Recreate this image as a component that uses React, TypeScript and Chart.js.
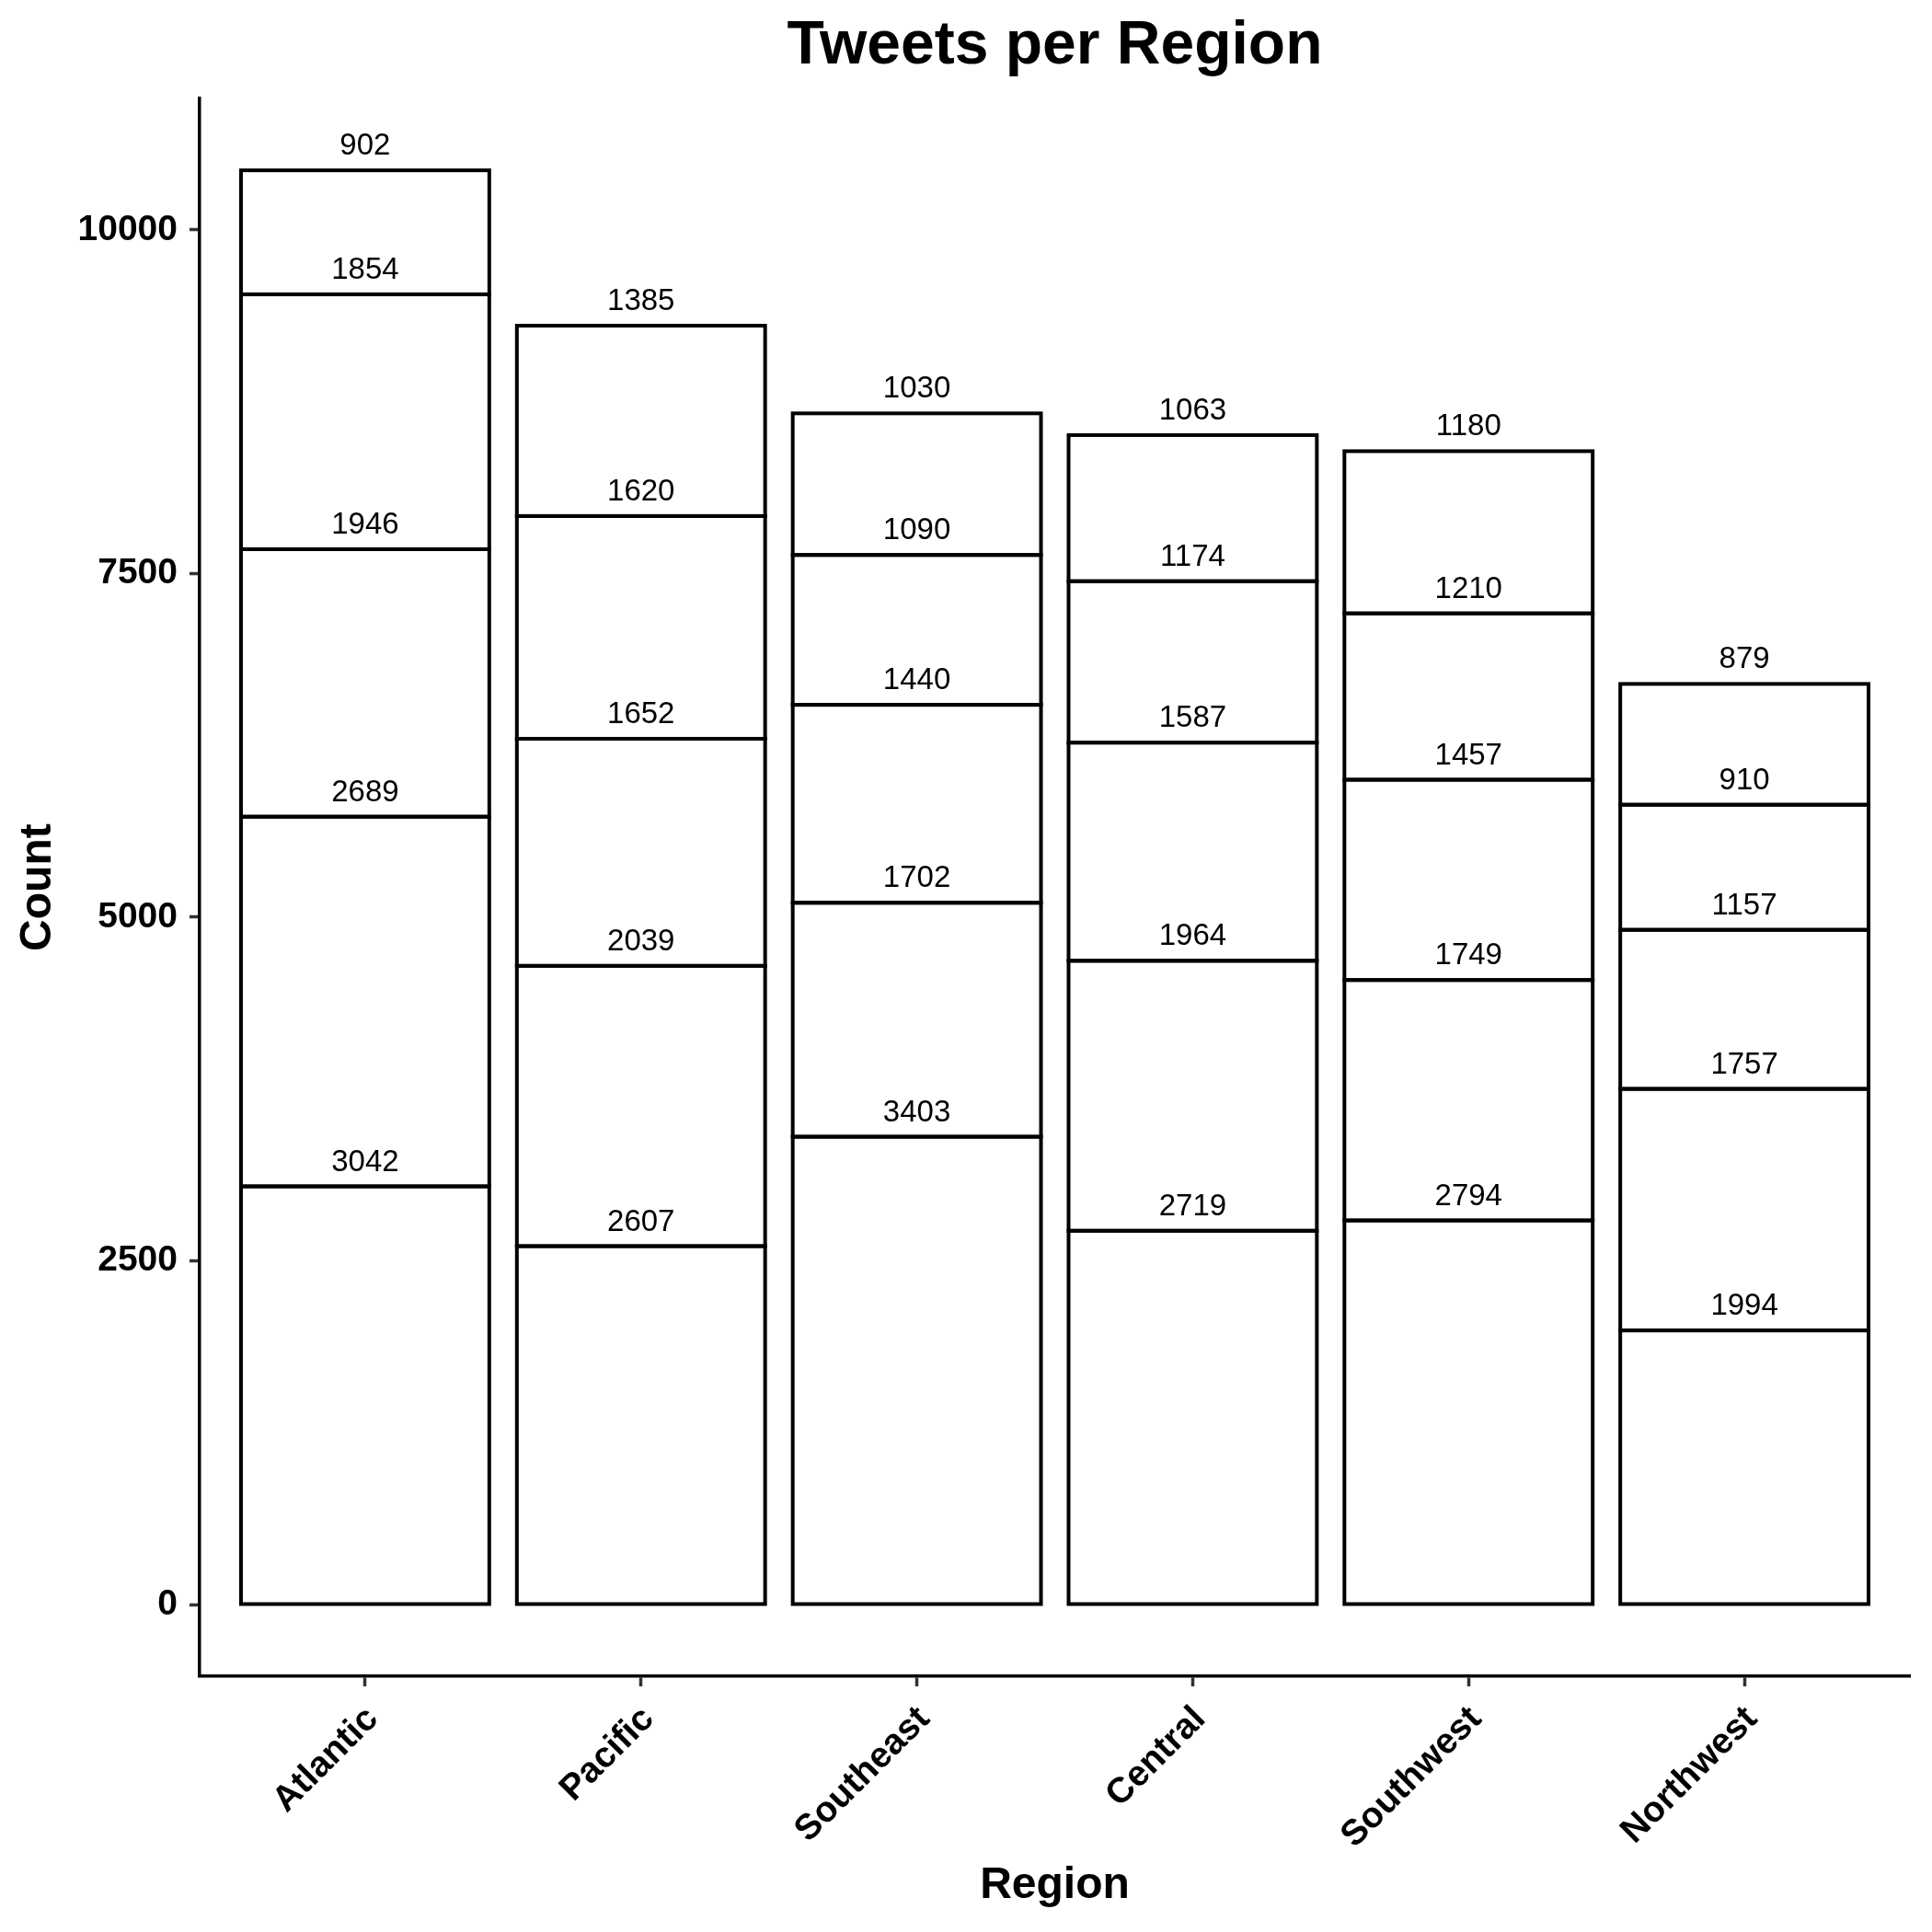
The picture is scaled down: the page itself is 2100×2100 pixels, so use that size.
import { useEffect, useRef } from "react";
import { Chart, registerables } from "chart.js";

Chart.register(...registerables);

const regions = ["Atlantic", "Pacific", "Southeast", "Central", "Southwest", "Northwest"];
// stacked segments, bottom to top
const layer1 = [3042, 2607, 3403, 2719, 2794, 1994];
const layer2 = [2689, 2039, 1702, 1964, 1749, 1757];
const layer3 = [1946, 1652, 1440, 1587, 1457, 1157];
const layer4 = [1854, 1620, 1090, 1174, 1210, 910];
const layer5 = [902, 1385, 1030, 1063, 1180, 879];
const yTicks = [0, 2500, 5000, 7500, 10000];

const chartTitle = "Tweets per Region";
const xTitle = "Region";
const yTitle = "Count";

const FONT = '"Liberation Sans", Arial, Helvetica, sans-serif';

export default function App() {
  const ref = useRef<HTMLCanvasElement>(null);

  useEffect(() => {
    document.body.style.margin = "0";
    const layers = [layer1, layer2, layer3, layer4, layer5];
    const totals = regions.map((_, i) => layers.reduce((s, l) => s + l[i], 0));
    const maxTotal = Math.max(...totals);
    const yMin = -0.05 * maxTotal;
    const yMax = maxTotal * 1.05;

    const outlinePlugin = {
      id: "outlineAndLabels",
      afterDatasetsDraw(chart: any) {
        const ctx = chart.ctx as CanvasRenderingContext2D;
        ctx.save();
        ctx.lineWidth = 4;
        ctx.strokeStyle = "#000";
        chart.data.datasets.forEach((_ds: any, di: number) => {
          const meta = chart.getDatasetMeta(di);
          meta.data.forEach((el: any) => {
            const { x, y, base, width } = el.getProps(["x", "y", "base", "width"], true);
            ctx.strokeRect(x - width / 2, y, width, base - y);
          });
        });
        ctx.fillStyle = "#000";
        ctx.font = `33px ${FONT}`;
        ctx.textAlign = "center";
        ctx.textBaseline = "alphabetic";
        chart.data.datasets.forEach((_ds: any, di: number) => {
          const meta = chart.getDatasetMeta(di);
          meta.data.forEach((el: any, i: number) => {
            const { x, y } = el.getProps(["x", "y"], true);
            ctx.fillText(String(layers[di][i]), x, y - 17);
          });
        });
        ctx.restore();
      },
    };

    const gridCfg = {
      display: true,
      drawOnChartArea: false,
      drawTicks: true,
      tickLength: 11,
      tickWidth: 3.5,
      tickColor: "#333333",
      offset: false,
    };
    const borderCfg = { display: true, color: "#000", width: 3.5 };

    const chart = new Chart(ref.current as HTMLCanvasElement, {
      type: "bar",
      data: {
        datasets: layers.map((l, di) => ({
          label: `Layer ${di + 1}`,
          data: l.map((v, i) => ({ x: i + 1, y: v })),
          backgroundColor: "#ffffff",
          borderWidth: 0,
          barPercentage: 0.9,
          categoryPercentage: 1,
        })),
      },
      options: {
        responsive: false,
        animation: false,
        devicePixelRatio: 1,
        layout: { padding: { left: 0, right: 24, top: 0, bottom: 0 } },
        plugins: {
          legend: { display: false },
          tooltip: { enabled: false },
          title: {
            display: true,
            text: chartTitle,
            fullSize: false,
            color: "#000",
            font: { family: FONT, size: 66, weight: "bold" },
            padding: { top: 11, bottom: 17 },
          },
        },
        scales: {
          x: {
            type: "linear",
            min: 0.4,
            max: 6.6,
            stacked: true,
            offset: false,
            grid: gridCfg,
            border: borderCfg,
            ticks: {
              autoSkip: false,
              minRotation: 45,
              maxRotation: 45,
              padding: 13,
              labelOffset: 8,
              color: "#000",
              font: { family: FONT, size: 39, weight: "bold" },
              callback: (v: any) => regions[Math.round(Number(v)) - 1] ?? "",
            },
            afterBuildTicks: (axis: any) => {
              axis.ticks = regions.map((_, i) => ({ value: i + 1 }));
            },
            afterFit: (s: any) => {
              s.height = 278;
            },
            title: {
              display: true,
              text: xTitle,
              color: "#000",
              font: { family: FONT, size: 48, weight: "bold" },
              padding: { top: 0, bottom: 21 },
            },
          },
          y: {
            type: "linear",
            min: yMin,
            max: yMax,
            stacked: true,
            grid: gridCfg,
            border: borderCfg,
            ticks: {
              padding: 13,
              color: "#000",
              font: { family: FONT, size: 39, weight: "bold" },
              callback: (v: any) => String(v),
            },
            afterBuildTicks: (axis: any) => {
              axis.ticks = yTicks.map((v) => ({ value: v }));
            },
            afterFit: (s: any) => {
              s.width = 217;
            },
            title: {
              display: true,
              text: yTitle,
              color: "#000",
              font: { family: FONT, size: 48, weight: "bold" },
              padding: { top: 13, bottom: 0 },
            },
          },
        },
      } as any,
      plugins: [outlinePlugin],
    });

    return () => chart.destroy();
  }, []);

  return (
    <div style={{ width: 2100, height: 2100 }}>
      <canvas ref={ref} width={2100} height={2100} style={{ display: "block" }} />
    </div>
  );
}
